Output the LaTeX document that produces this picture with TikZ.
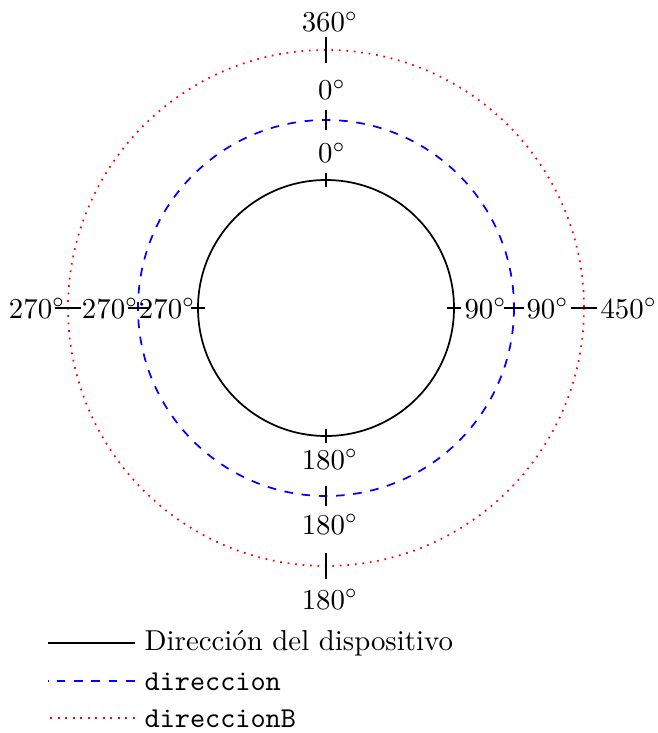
\documentclass[tikz,border=0pt]{standalone}
\begin{document}
\begin{tikzpicture}[x=0.347pt,y=-0.347pt,
  marca/.style={black,line width=1pt},
  grado/.style={inner sep=0pt},
  solido/.style={black,semithick},
  discont/.style={blue,semithick,dashed},
  punteado/.style={red,semithick,dotted}]
  \useasboundingbox (0,0) rectangle (657,733);
  \coordinate (O) at (326,308);
  % circulos
  \draw[solido] (O) circle (128);
  \draw[discont] (O) circle (188);
  \draw[punteado] (O) circle (258);
  % marcas
  \foreach \r/\h in {128/7,188/10,258/13}{
    \draw[marca] (326,{308-\r-\h}) -- (326,{308-\r+\h});
    \draw[marca] (326,{308+\r-\h}) -- (326,{308+\r+\h});
    \draw[marca] ({326-\r-\h},308) -- ({326-\r+\h},308);
    \draw[marca] ({326+\r-\h},308) -- ({326+\r+\h},308);
  }
  % etiquetas
  \node[grado,anchor=base] (ini0) at (332,163) {$0^\circ$};
  \node[grado,anchor=base] (azu0) at (332,100) {$0^\circ$};
  \node[grado,anchor=base] (roj0) at (330,32) {$360^\circ$};
  \node[grado,anchor=north] (ini180) at (330,449) {$180^\circ$};
  \node[grado,anchor=north] (azu180) at (330,514) {$180^\circ$};
  \node[grado,anchor=north] (roj180) at (330,589) {$180^\circ$};
  \node[grado,anchor=base west] (ini90) at (464,318) {$90^\circ$};
  \node[grado,anchor=base west] (azu90) at (526,318) {$90^\circ$};
  \node[grado,anchor=base west] (roj90) at (600,318) {$450^\circ$};
  \node[grado,anchor=base east] (ini270) at (196,318) {$270^\circ$};
  \node[grado,anchor=base east] (azu270) at (139,318) {$270^\circ$};
  \node[grado,anchor=base east] (roj270) at (66,318) {$270^\circ$};
  % leyenda
  \node[anchor=base west] (legA) at (134.5,650) {Dirección del dispositivo};
  \node[anchor=base west] (legB) at (134.5,690) {\texttt{direccion}};
  \node[anchor=base west] (legC) at (134.5,727) {\texttt{direccionB}};
  \draw[solido] (legA.west) -- ++(-87,0);
  \draw[discont] (legB.west) -- ++(-87,0);
  \draw[punteado] (legC.west) -- ++(-87,0);
\end{tikzpicture}
\end{document}
